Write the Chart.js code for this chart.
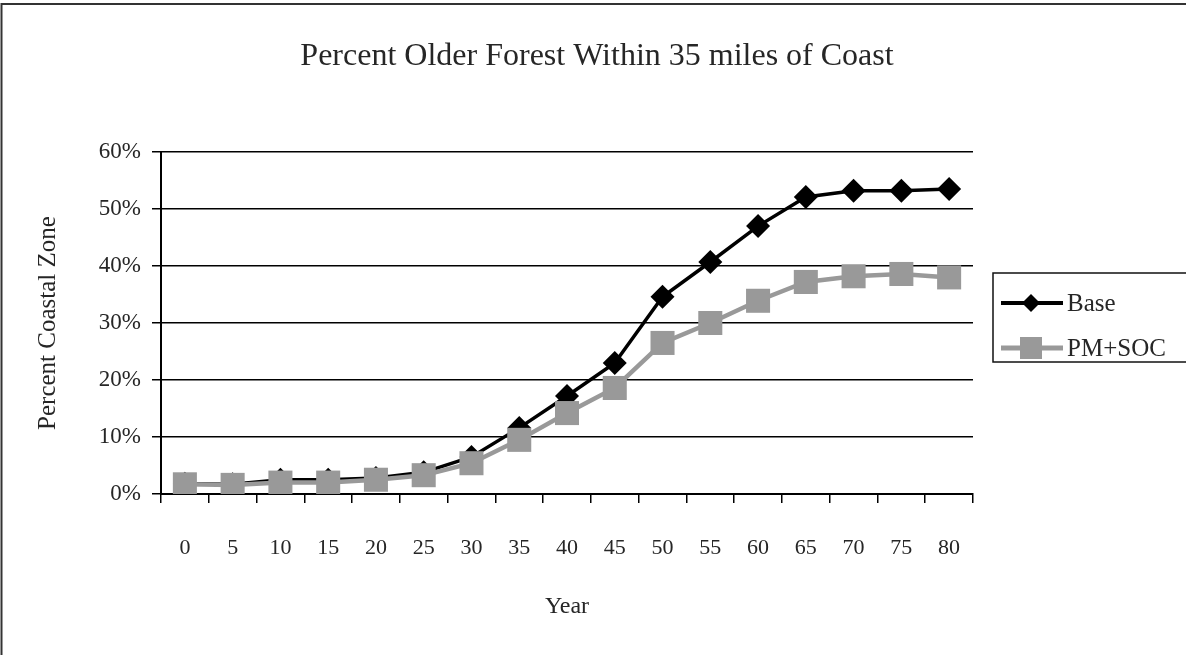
<!DOCTYPE html>
<html>
<head>
<meta charset="utf-8">
<title>Percent Older Forest Within 35 miles of Coast</title>
<script src="https://cdn.jsdelivr.net/npm/chart.js@4/dist/chart.umd.min.js"></script>
<style>
    html, body { margin: 0; padding: 0; background: #fff; }
    #wrap { position: relative; width: 1186px; height: 655px; }
</style>
</head>
<body>
<div id="wrap"><canvas id="myChart"></canvas></div>
<script>
const years = ['0', '5', '10', '15', '20', '25', '30', '35', '40', '45', '50', '55', '60', '65', '70', '75', '80'];
const baseValues = [1.8, 1.7, 2.5, 2.5, 2.8, 3.8, 6.5, 11.6, 17.2, 23.0, 34.6, 40.7, 47.0, 52.1, 53.2, 53.2, 53.5];
const pmSocValues = [1.7, 1.6, 2.0, 2.0, 2.5, 3.3, 5.4, 9.5, 14.2, 18.6, 26.5, 30.0, 33.9, 37.2, 38.2, 38.6, 38.0];
const seriesNames = ['Base', 'PM+SOC'];
const yTicks = [0, 10, 20, 30, 40, 50, 60];
const chartTitle = 'Percent Older Forest Within 35 miles of Coast';

const serif = "'Liberation Serif', 'Times New Roman', serif";
const textColor = '#262626';
const grey = '#999999';

// white page + the two frame lines (top and left only)
const frame = {
    id: 'frame',
    beforeDraw: (chart) => {
        const { ctx } = chart;
        ctx.save();
        ctx.fillStyle = '#fff';
        ctx.fillRect(0, 0, chart.width, chart.height);
        ctx.strokeStyle = '#333';
        ctx.lineWidth = 2;
        ctx.beginPath();
        ctx.moveTo(chart.width, 4);
        ctx.lineTo(1.5, 4);
        ctx.lineTo(1.5, chart.height);
        ctx.stroke();
        ctx.restore();
    }
};

// title centred on the whole page, not only over the plot
const pageTitle = {
    id: 'pageTitle',
    afterDraw: (chart) => {
        const { ctx } = chart;
        ctx.save();
        ctx.fillStyle = textColor;
        ctx.font = '32px ' + serif;
        ctx.textAlign = 'center';
        ctx.textBaseline = 'middle';
        ctx.fillText(chartTitle, chart.width / 2 + 4, 57);
        ctx.restore();
    }
};

function drawMarker(ctx, style, x, y, r, color) {
    ctx.fillStyle = color;
    ctx.beginPath();
    if (style === 'rectRot') {
        ctx.moveTo(x, y - r);
        ctx.lineTo(x + r, y);
        ctx.lineTo(x, y + r);
        ctx.lineTo(x - r, y);
    } else {
        ctx.rect(x - r, y - r, r * 2, r * 2);
    }
    ctx.closePath();
    ctx.fill();
}

// boxed legend to the right, line + marker samples
const boxLegend = {
    id: 'boxLegend',
    afterDraw: (chart) => {
        const { ctx, chartArea } = chart;
        const left = chartArea.right + 20;
        const top = 273;
        ctx.save();
        ctx.strokeStyle = '#111';
        ctx.lineWidth = 1.5;
        ctx.strokeRect(left, top, 220, 89);

        const rows = [303, 348];
        const legendMarks = [
            { style: 'rectRot', r: 9 },
            { style: 'rect', r: 11 }
        ];
        chart.data.datasets.forEach((ds, i) => {
            const y = rows[i];
            ctx.strokeStyle = ds.borderColor;
            ctx.lineWidth = ds.borderWidth + 0.5;
            ctx.beginPath();
            ctx.moveTo(left + 8, y);
            ctx.lineTo(left + 70, y);
            ctx.stroke();
            drawMarker(ctx, legendMarks[i].style, left + 38, y, legendMarks[i].r, ds.pointBackgroundColor);

            ctx.fillStyle = textColor;
            ctx.font = '25px ' + serif;
            ctx.textBaseline = 'middle';
            ctx.textAlign = 'left';
            ctx.fillText(ds.label, left + 74, y + 1);
        });
        ctx.restore();
    }
};

function createChart() {
    const ctx = document.getElementById('myChart').getContext('2d');

    return new Chart(ctx, {
        type: 'line',
        data: {
            labels: years,
            datasets: [
                {
                    label: seriesNames[0],
                    data: baseValues,
                    borderColor: '#000',
                    backgroundColor: '#000',
                    pointBackgroundColor: '#000',
                    pointBorderColor: '#000',
                    borderWidth: 3.5,
                    pointStyle: 'rectRot',
                    pointRadius: 12,
                    pointBorderWidth: 0,
                    tension: 0,
                    order: 1
                },
                {
                    label: seriesNames[1],
                    data: pmSocValues,
                    borderColor: grey,
                    backgroundColor: grey,
                    pointBackgroundColor: grey,
                    pointBorderColor: grey,
                    borderWidth: 4.5,
                    pointStyle: 'rect',
                    pointRadius: 17,
                    pointBorderWidth: 0,
                    tension: 0,
                    order: 0
                }
            ]
        },
        options: {
            responsive: true,
            maintainAspectRatio: false,
            animation: false,
            layout: { padding: { left: 0, right: 213, top: 152, bottom: 0 } },
            plugins: {
                legend: { display: false },
                tooltip: { enabled: false },
                title: { display: false }
            },
            scales: {
                x: {
                    offset: true,
                    afterFit: (scale) => { scale.height = 161; },
                    grid: {
                        offset: true,
                        drawOnChartArea: false,
                        drawTicks: true,
                        tickLength: 9,
                        color: '#000',
                        lineWidth: 1.5
                    },
                    border: { display: true, color: '#000', width: 2 },
                    ticks: {
                        color: textColor,
                        padding: 32,
                        maxRotation: 0,
                        autoSkip: false,
                        font: { family: serif, size: 22 }
                    },
                    title: {
                        display: true,
                        text: 'Year',
                        color: textColor,
                        font: { family: serif, size: 24, lineHeight: 1.2 },
                        padding: { top: 0, bottom: 34 }
                    }
                },
                y: {
                    min: yTicks[0],
                    max: yTicks[yTicks.length - 1],
                    afterFit: (scale) => { scale.width = 161; },
                    afterBuildTicks: (scale) => {
                        scale.ticks = yTicks.map(v => ({ value: v }));
                    },
                    grid: {
                        drawTicks: true,
                        tickLength: 9,
                        color: '#000',
                        lineWidth: 1.5
                    },
                    border: { display: true, color: '#000', width: 2 },
                    ticks: {
                        color: textColor,
                        padding: 11,
                        font: { family: serif, size: 23 },
                        callback: (value) => value + '%'
                    },
                    title: {
                        display: true,
                        text: 'Percent Coastal Zone',
                        color: textColor,
                        font: { family: serif, size: 25, lineHeight: 1.2 },
                        padding: { top: 33, bottom: 0 }
                    }
                }
            }
        },
        plugins: [frame, pageTitle, boxLegend]
    });
}

createChart();
</script>
</body>
</html>
